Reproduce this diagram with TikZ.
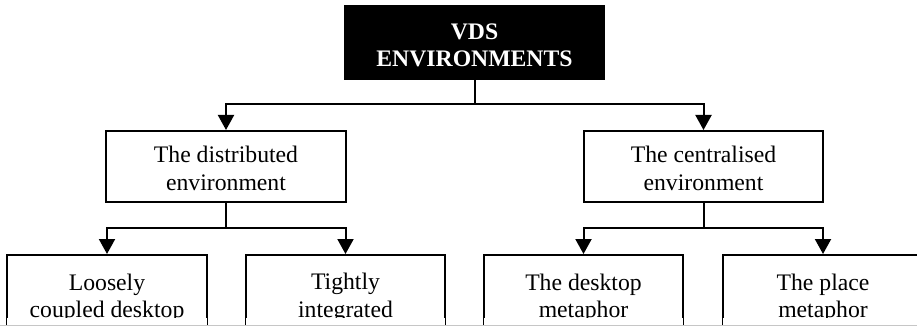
\documentclass[tikz,border=0pt]{standalone}
\usepackage{fontspec}
\setmainfont{Liberation Serif}
\usetikzlibrary{arrows.meta}
\begin{document}
\begin{tikzpicture}[x=1pt,y=-1pt,
  box/.style={draw, line width=2pt, align=center, inner sep=0pt,
    font=\fontsize{23.7}{27.4}\selectfont},
  topbox/.style={box, fill=black, text=white,
    font=\fontsize{23.7}{27.4}\selectfont\bfseries},
  conn/.style={line width=2pt},
  arr/.style={conn, -{Triangle[width=16pt,length=15pt]}},
  cutoff/.style={fill=white}]
\useasboundingbox (0,0) rectangle (917,326);
\clip (0,0) rectangle (917,326);
\node[topbox, minimum width=259pt, minimum height=73pt] (top) at (474.5,42.5) {\rule{0pt}{21pt}VDS\\ENVIRONMENTS};
\node[box, minimum width=240pt, minimum height=71pt] (midL) at (226,166.5) {\rule{0pt}{20pt}The distributed\\environment};
\node[box, minimum width=239pt, minimum height=71pt] (midR) at (703.5,166.5) {\rule{0pt}{20pt}The centralised\\environment};
\node[box, minimum width=200pt, minimum height=86pt] (b1) at (107,298) {Loosely\\coupled desktop};
\node[box, minimum width=199pt, minimum height=86pt] (b2) at (345.5,298) {Tightly\\integrated};
\node[box, minimum width=199pt, minimum height=86pt] (b3) at (583.5,298) {The desktop\\metaphor};
\node[box, minimum width=200pt, minimum height=86pt] (b4) at (823,298) {The place\\metaphor};
\coordinate (j0) at (474.5,104.5);
\coordinate (jL) at (226,228);
\coordinate (jR) at (703.5,228);
\draw[arr] (top.south) -- (j0) -| (midL.north);
\draw[arr] (j0) -| (midR.north);
\draw[arr] (midL.south) -- (jL) -| (b1.north);
\draw[arr] (jL) -| (b2.north);
\draw[arr] (midR.south) -- (jR) -| (b3.north);
\draw[arr] (jR) -| (b4.north);
\foreach \b in {b1,b2,b3,b4}
  \fill[cutoff] ([xshift=1.1pt]\b.west |- 0,318) rectangle ([xshift=-1.1pt]\b.east |- 0,327);
\draw[gray!45, line width=1pt] (0,325.5) -- (917,325.5);
\end{tikzpicture}
\end{document}
